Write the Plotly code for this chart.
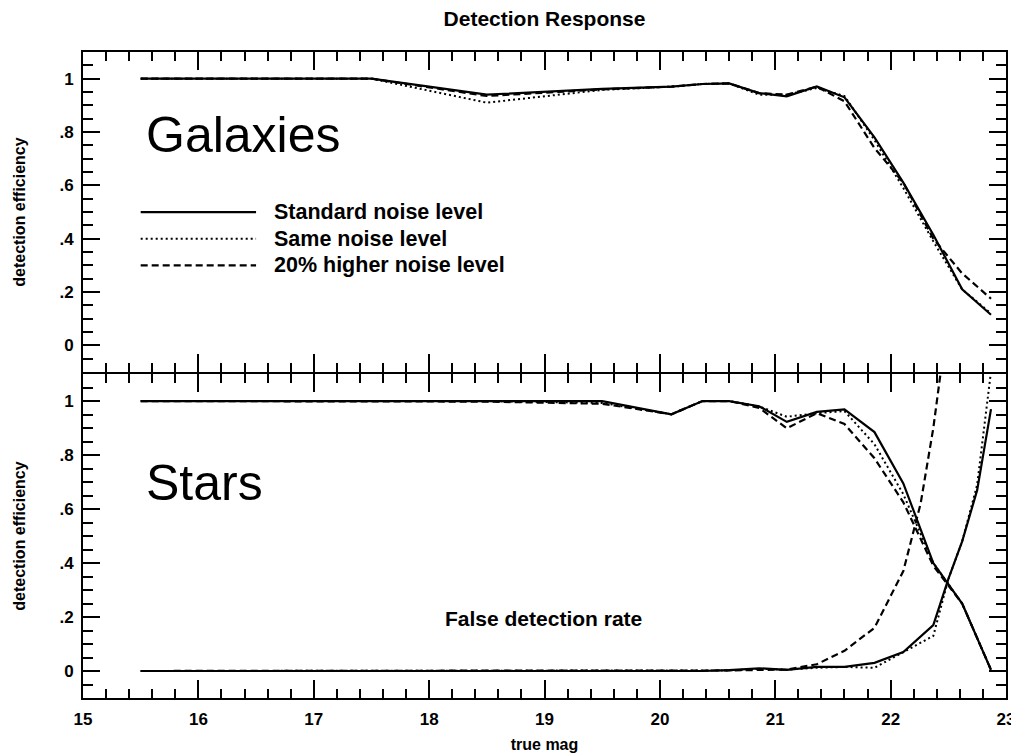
import plotly.graph_objects as go

# ---------------- data ----------------
mag = [15.5, 16.5, 17.5, 18.5, 19.5, 20.1, 20.37, 20.6, 20.86, 21.1, 21.36,
       21.6, 21.86, 22.11, 22.37, 22.62, 22.87]

gal_standard = [1.0, 1.0, 1.0, 0.94, 0.962, 0.97, 0.98, 0.982, 0.946, 0.934, 0.971,
                0.93, 0.78, 0.61, 0.415, 0.21, 0.115]
gal_same = [1.0, 1.0, 1.0, 0.91, 0.958, 0.97, 0.98, 0.982, 0.94, 0.94, 0.965,
            0.935, 0.77, 0.59, 0.39, 0.21, 0.12]
gal_higher = [1.0, 1.0, 1.0, 0.935, 0.96, 0.97, 0.98, 0.982, 0.946, 0.94, 0.97,
              0.915, 0.74, 0.61, 0.40, 0.27, 0.175]

star_standard = [1.0, 1.0, 1.0, 1.0, 1.0, 0.951, 1.0, 1.0, 0.981, 0.923, 0.96,
                 0.969, 0.885, 0.695, 0.40, 0.25, 0.004]
star_same = [1.0, 1.0, 1.0, 1.0, 0.993, 0.951, 1.0, 1.0, 0.98, 0.942, 0.955,
             0.963, 0.84, 0.655, 0.40, 0.25, 0.004]
star_higher = [1.0, 1.0, 1.0, 0.998, 0.99, 0.951, 1.0, 1.0, 0.975, 0.899, 0.955,
               0.915, 0.788, 0.625, 0.39, 0.25, 0.004]

false_mag = [15.5, 16.5, 17.5, 18.5, 19.5, 20.1, 20.37, 20.6, 20.86, 21.1, 21.36,
             21.6, 21.86, 22.11, 22.37, 22.5, 22.62, 22.75, 22.87]
false_standard = [0, 0, 0, 0, 0, 0, 0, 0.003, 0.01, 0.004, 0.015,
                  0.015, 0.03, 0.07, 0.17, 0.34, 0.48, 0.67, 0.97]
false_same = [0, 0, 0, 0, 0, 0, 0, 0.002, 0.008, 0.005, 0.012,
              0.015, 0.012, 0.07, 0.13, 0.34, 0.48, 0.69, 1.11]

false_higher_mag = [15.5, 16.5, 17.5, 18.5, 19.5, 20.1, 20.37, 20.6, 20.86, 21.1,
                    21.36, 21.6, 21.86, 22.11, 22.26, 22.37, 22.5]
false_higher = [0, 0, 0, 0, 0, 0, 0, 0.002, 0.004, 0.005,
                0.025, 0.075, 0.16, 0.37, 0.62, 0.90, 1.32]

series_names = ["Standard noise level", "Same noise level", "20% higher noise level"]
y_tickvals = [0, 0.2, 0.4, 0.6, 0.8, 1.0]
y_ticktext = ["0", ".2", ".4", ".6", ".8", "1"]

# ---------------- styling ----------------
FONT = "Liberation Sans, Arial, Helvetica, sans-serif"
line_styles = [
    dict(color="black", width=2.2),
    dict(color="black", width=2.0, dash="2px,3px"),
    dict(color="black", width=2.2, dash="7px,4px"),
]

fig = go.Figure()

gal_series = [gal_standard, gal_same, gal_higher]
star_series = [star_standard, star_same, star_higher]
false_series = [(false_mag, false_standard), (false_mag, false_same),
                (false_higher_mag, false_higher)]

for name, ys, st in zip(series_names, gal_series, line_styles):
    fig.add_trace(go.Scatter(x=mag, y=ys, mode="lines", line=st, name=name,
                             xaxis="x", yaxis="y", showlegend=False))
for name, ys, st in zip(series_names, star_series, line_styles):
    fig.add_trace(go.Scatter(x=mag, y=ys, mode="lines", line=st, name=name,
                             xaxis="x2", yaxis="y2", showlegend=False))
for name, (xs, ys), st in zip(series_names, false_series, line_styles):
    fig.add_trace(go.Scatter(x=xs, y=ys, mode="lines", line=st,
                             name=name + " (false)",
                             xaxis="x2", yaxis="y2", showlegend=False))

tickfont = dict(family=FONT, size=17, color="black", weight="bold")

common_x = dict(
    range=[15, 23], showline=True, linewidth=2, linecolor="black",
    mirror="allticks", ticks="inside", ticklen=18, tickwidth=2, tickcolor="black",
    tick0=15, dtick=1, showgrid=False, zeroline=False, automargin=False,
    minor=dict(ticks="inside", tick0=15, dtick=0.2, ticklen=9, tickwidth=1.5,
               tickcolor="black", showgrid=False),
    tickfont=tickfont,
)
common_y = dict(
    range=[-0.1, 1.1], showline=True, linewidth=2, linecolor="black",
    mirror="allticks", ticks="inside", ticklen=17, tickwidth=2, tickcolor="black",
    tickmode="array", tickvals=y_tickvals, ticktext=y_ticktext,
    showgrid=False, zeroline=False, ticklabelstandoff=4, automargin=False,
    minor=dict(ticks="inside", tickmode="linear", tick0=0, dtick=0.05, ticklen=10,
               tickwidth=1.5, tickcolor="black", showgrid=False),
    tickfont=tickfont,
    title=dict(text="detection efficiency", standoff=30,
               font=dict(family=FONT, size=16, color="black", weight="bold")),
)

# the page adds an 8px body margin, so the figure is sized/offset to compensate
FIG_W, FIG_H = 1011, 747
M_L, M_R, M_T, M_B = 75, 13, 44, 57
PLOT_H = FIG_H - M_T - M_B
split = 0.503
gap = 1.0 / PLOT_H  # so the two touching frame lines coincide

fig.update_layout(
    width=FIG_W, height=FIG_H,
    margin=dict(l=M_L, r=M_R, t=M_T, b=M_B, autoexpand=False),
    paper_bgcolor="white", plot_bgcolor="white",
    font=dict(family=FONT, color="black"),
    showlegend=False,
    title=dict(text="Detection Response", x=0.5, xref="paper", xanchor="center",
               y=1 - 10.5 / FIG_H, yref="container", yanchor="middle",
               automargin=False,
               font=dict(family=FONT, size=21, color="black", weight="bold")),
    xaxis=dict(common_x, anchor="y", domain=[0, 1], showticklabels=False),
    xaxis2=dict(common_x, anchor="y2", domain=[0, 1], matches="x",
                ticklabelstandoff=5,
                title=dict(text="true mag", standoff=10,
                           font=dict(family=FONT, size=16, color="black", weight="bold"))),
    yaxis=dict(common_y, anchor="x", domain=[split + gap, 1]),
    yaxis2=dict(common_y, anchor="x2", domain=[0, split - gap]),
)

# panel labels
fig.add_annotation(x=15.53, y=0.79, xref="x", yref="y", text="Galaxies",
                   showarrow=False, xanchor="left", yanchor="middle",
                   font=dict(family=FONT, size=50, color="black"))
fig.add_annotation(x=15.53, y=0.696, xref="x2", yref="y2", text="Stars",
                   showarrow=False, xanchor="left", yanchor="middle",
                   font=dict(family=FONT, size=50, color="black"))
fig.add_annotation(x=18.99, y=0.195, xref="x2", yref="y2", text="False detection rate",
                   showarrow=False, xanchor="center", yanchor="middle",
                   font=dict(family=FONT, size=21, color="black", weight="bold"))

# in-panel key (legend) for the three noise levels
key_rows_y = [0.5, 0.4, 0.3]
key_x0, key_x1, key_text_x = 15.5, 16.5, 16.64
for name, st, ky in zip(series_names, line_styles, key_rows_y):
    fig.add_shape(type="line", xref="x", yref="y", x0=key_x0, x1=key_x1, y0=ky, y1=ky,
                  line=dict(color="black", width=st["width"], dash=st.get("dash", "solid")))
    fig.add_annotation(x=key_text_x, y=ky, xref="x", yref="y", text=name,
                       showarrow=False, xanchor="left", yanchor="middle",
                       font=dict(family=FONT, size=21.5, color="black", weight="bold"))

fig.write_html("out.html")
